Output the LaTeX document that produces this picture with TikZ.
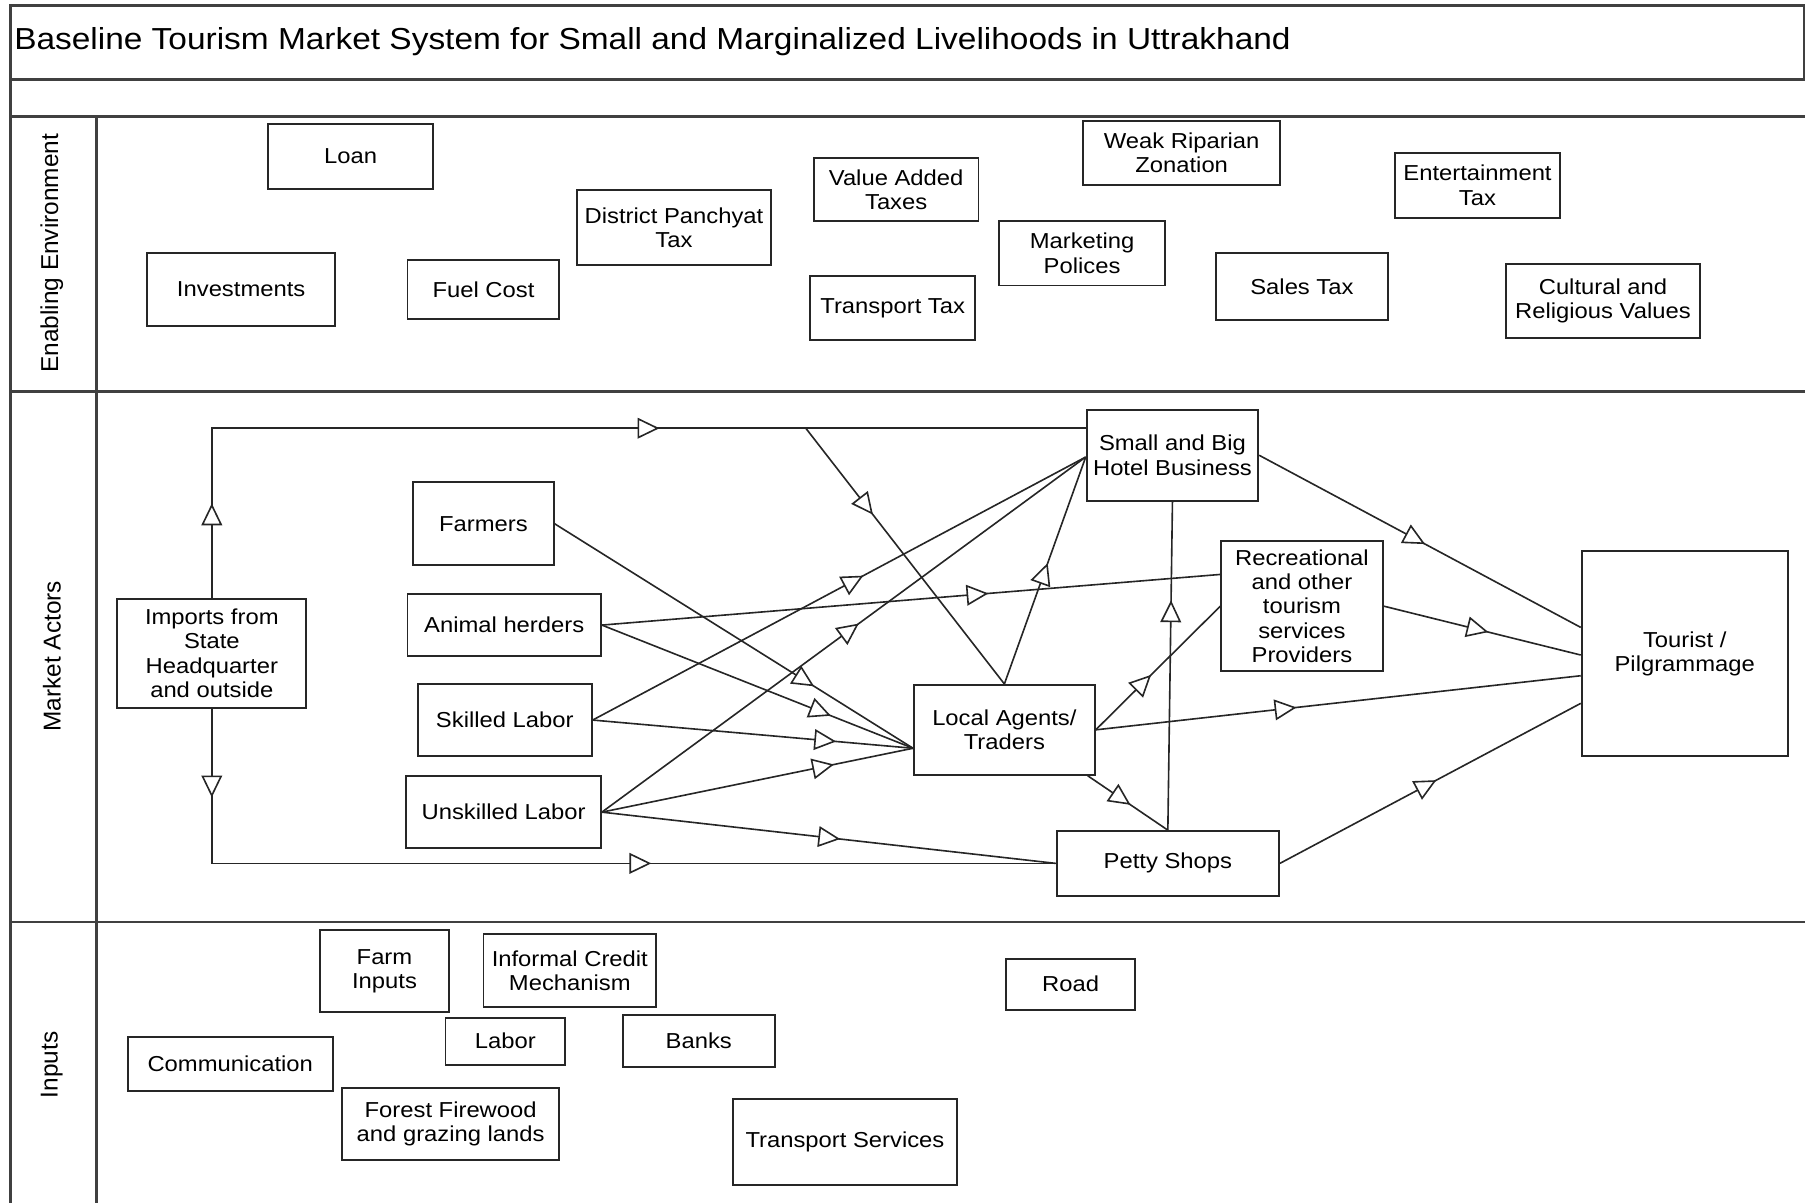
\documentclass[tikz,border=0pt]{standalone}
\usepackage{fontspec}
\setmainfont{Liberation Sans}[FakeStretch=1.1]
\newfontfamily\lanefont{Liberation Sans}
\usetikzlibrary{arrows.meta,decorations.markings,calc}

\tikzset{
  openTri/.tip={Triangle[length=9.5pt,width=9pt,fill=white]},
  box/.style={draw=black!85, line width=0.85pt, fill=white, inner sep=0pt,
    align=center, font=\fontsize{9.4}{10.5}\selectfont},
  sz/.style 2 args={minimum width=#1*0.5pt, minimum height=#2*0.5pt},
  con/.style={draw=black!85, line width=0.7pt},
  lane/.style={draw=black!75, line width=1.1pt},
  lanelabel/.style={rotate=90, font=\lanefont\fontsize{10.6}{12}\selectfont},
  mid/.style={postaction={decorate}, decoration={markings,
    mark=at position #1 with {\arrow{openTri}}}},
  midtwo/.style 2 args={postaction={decorate}, decoration={markings,
    mark=at position #1 with {\arrow{openTri}},
    mark=at position #2 with {\arrow{openTri}}}},
}

\begin{document}
\begin{tikzpicture}[x=0.5pt, y=-0.5pt]
\useasboundingbox (0,0) rectangle (1568,1045);

% swimlane frame
\draw[lane] (9,5) rectangle (1567,69);
\draw[lane] (9,101) -- (1568,101);
\draw[lane] (9,340) -- (1568,340);
\draw[lane] (9,801) -- (1568,801);
\draw[lane] (9,69) -- (9,1045);
\draw[lane] (84,101) -- (84,1045);

\node[anchor=west, inner sep=0pt, font=\fontsize{13.2}{15}\selectfont] (title) at (12,36)
  {Baseline Tourism Market System for Small and Marginalized Livelihoods in Uttrakhand};

\node[lanelabel] (laneEnv) at (45,220) {Enabling Environment};
\node[lanelabel] (laneAct) at (45,570) {Market Actors};
\node[lanelabel] (laneInp) at (45,925) {Inputs};

% enabling environment
\node[box, sz={143}{56}] (loan)   at (304.5,136)   {Loan};
\node[box, sz={163}{63}] (invest) at (209.5,251.5) {Investments};
\node[box, sz={132}{51}] (fuel)   at (420,251.5)   {Fuel Cost};
\node[box, sz={169}{65}] (dpt)    at (585.5,197.5) {District Panchyat\\Tax};
\node[box, sz={143}{55}] (vat)    at (778.5,164.5) {Value Added\\Taxes};
\node[box, sz={143}{55}] (ttax)   at (775.5,267.5) {Transport Tax};
\node[box, sz={171}{56}] (weak)   at (1026.5,133)  {Weak Riparian\\Zonation};
\node[box, sz={144}{56}] (mkt)    at (940,220)     {Marketing\\Polices};
\node[box, sz={150}{58}] (sales)  at (1131,249)    {Sales Tax};
\node[box, sz={143}{56}] (ent)    at (1283.5,161)  {Entertainment\\Tax};
\node[box, sz={169}{65}] (cult)   at (1392.5,261.5) {Cultural and\\Religious Values};

% market actors
\node[box, sz={164}{95}]  (imp)   at (184,567.5)   {Imports from\\State\\Headquarter\\and outside};
\node[box, sz={122}{72}]  (farm)  at (420,455)     {Farmers};
\node[box, sz={168}{54}]  (herd)  at (438,543)     {Animal herders};
\node[box, sz={151}{63}]  (skill) at (438.5,625.5) {Skilled Labor};
\node[box, sz={169}{63}]  (unsk)  at (437.5,705.5) {Unskilled Labor};
\node[box, sz={157}{78}]  (agent) at (872.5,634)   {Local Agents/\\Traders};
\node[box, sz={149}{79}]  (hotel) at (1018.5,395.5) {Small and Big\\Hotel Business};
\node[box, sz={140}{113}] (rec)   at (1131,526.5)  {Recreational\\and other\\tourism\\services\\Providers};
\node[box, sz={179}{178}] (tour)  at (1463.5,568)  {Tourist /\\Pilgrammage};
\node[box, sz={193}{56}]  (petty) at (1014.5,750)  {Petty Shops};

% inputs
\node[box, sz={112}{71}] (finp)   at (334,843.5)   {Farm\\Inputs};
\node[box, sz={150}{64}] (icm)    at (495,843)     {Informal Credit\\Mechanism};
\node[box, sz={104}{41}] (labor)  at (439,904.5)   {Labor};
\node[box, sz={132}{45}] (banks)  at (607,904.5)   {Banks};
\node[box, sz={178}{47}] (comm)   at (200,924.5)   {Communication};
\node[box, sz={189}{63}] (forest) at (391.5,976.5) {Forest Firewood\\and grazing lands};
\node[box, sz={112}{44}] (road)   at (930,855)     {Road};
\node[box, sz={194}{74}] (tsvc)   at (734,992)     {Transport Services};

% attachment points
\coordinate (hTop)  at ($(hotel.west)+(0,-23.5)$);
\coordinate (branch) at (700,372);
\coordinate (agIn)  at ($(agent.west)+(0,16)$);
\coordinate (agOut) at ($(agent.south east)+(-7,0)$);
\coordinate (hotIn) at ($(hotel.west)+(0,1.5)$);
\coordinate (recIn) at ($(rec.west)+(0,-27.5)$);
\coordinate (tIn1)  at ($(tour.west)+(0,-23)$);
\coordinate (tIn2)  at ($(tour.west)+(0,1)$);
\coordinate (tIn3)  at ($(tour.west)+(0,19)$);
\coordinate (tIn4)  at ($(tour.west)+(0,43)$);

% flows
\draw[con, midtwo={0.0903}{0.5914}] (imp.north) |- (hTop);
\draw[con, midtwo={0.0886}{0.5949}] (imp.south) |- (petty.west);
\draw[con, mid=0.338] (branch) -- (agent.north);
\draw[con, mid=0.724] (farm.east) -- (agIn);
\draw[con, mid=0.736] (herd.east) -- (agIn);
\draw[con, mid=0.76]  (skill.east) -- (agIn);
\draw[con, mid=0.746] (unsk.east) -- (agIn);
\draw[con, mid=0.525] (unsk.east) -- (petty.west);
\draw[con, mid=0.549] (skill.east) -- (hotIn);
\draw[con, mid=0.531] (unsk.east) -- (hotIn);
\draw[con, mid=0.625] (herd.east) -- (recIn);
\draw[con, mid=0.533] (agent.north) -- (hotIn);
\draw[con, mid=0.516] (hotel.east) -- (tIn1);
\draw[con, mid=0.532] (rec.east) -- (tIn2);
\draw[con, mid=0.414] (agent.east) -- (tIn3);
\draw[con, mid=0.52]  (petty.east) -- (tIn4);
\draw[con, mid=0.445] (agent.east) -- (rec.west);
\draw[con, mid=0.535] (agOut) -- (petty.north);
\draw[con, mid=0.70]  (petty.north) -- (hotel.south);
\end{tikzpicture}
\end{document}
